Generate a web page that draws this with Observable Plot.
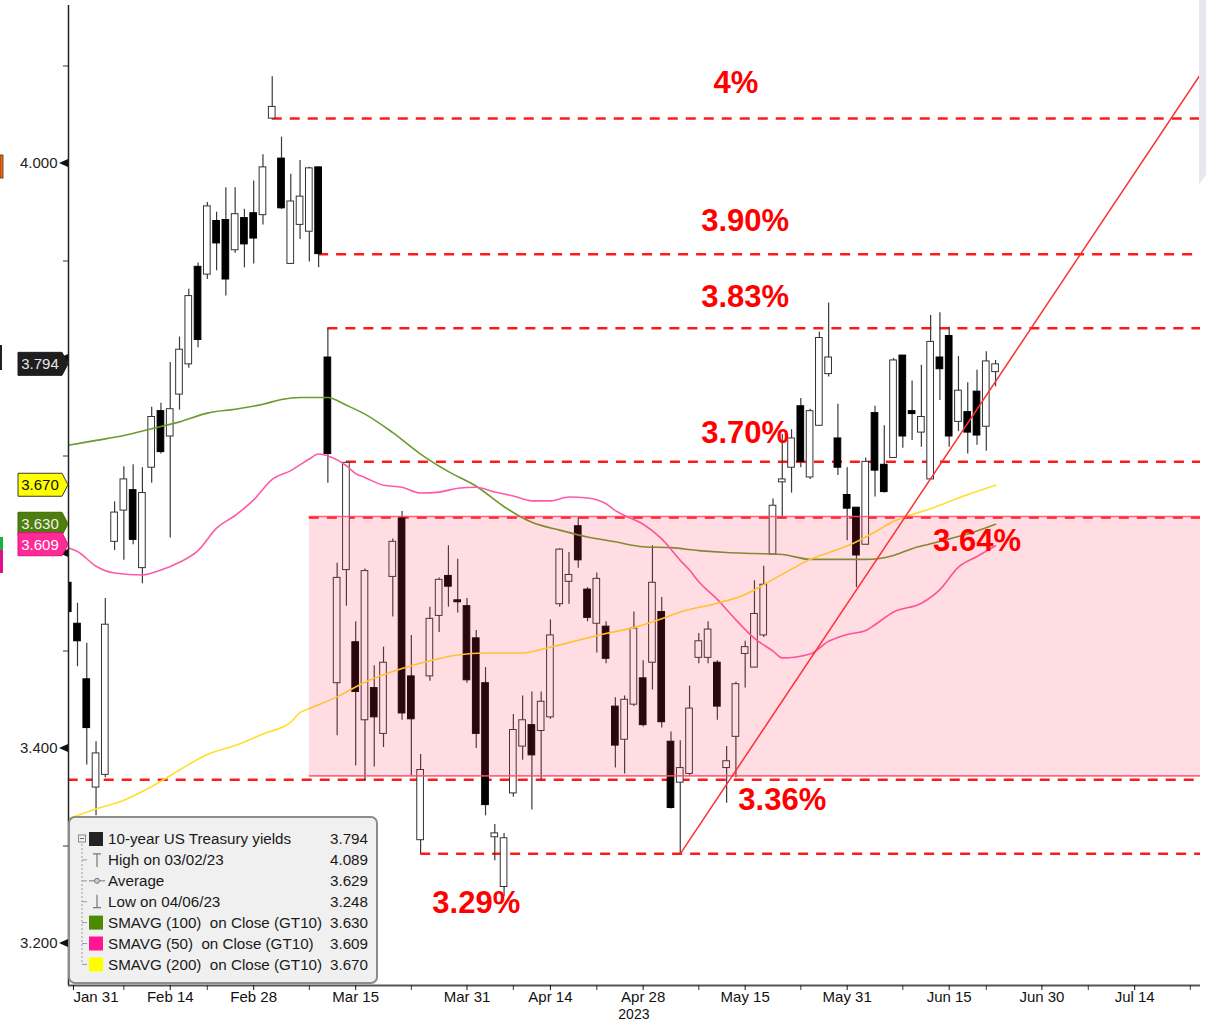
<!DOCTYPE html>
<html>
<head>
<meta charset="utf-8">
<script src="https://cdn.jsdelivr.net/npm/d3@7"></script>
<script src="https://cdn.jsdelivr.net/npm/@observablehq/plot@0.6"></script>
<style>
  html, body { margin: 0; padding: 0; background: #fff; }
  #chart { width: 1206px; height: 1026px; }
  svg { display: block; }
</style>
</head>
<body>
<div id="chart"></div>
<script>
// ---------- DATA (2023, trading days, MM-DD) ----------
const tradingDates = ("01-30 01-31 " +
 "02-01 02-02 02-03 02-06 02-07 02-08 02-09 02-10 02-13 02-14 02-15 02-16 02-17 02-21 02-22 02-23 02-24 02-27 02-28 " +
 "03-01 03-02 03-03 03-06 03-07 03-08 03-09 03-10 03-13 03-14 03-15 03-16 03-17 03-20 03-21 03-22 03-23 03-24 03-27 03-28 03-29 03-30 03-31 " +
 "04-03 04-04 04-05 04-06 04-10 04-11 04-12 04-13 04-14 04-17 04-18 04-19 04-20 04-21 04-24 04-25 04-26 04-27 04-28 " +
 "05-01 05-02 05-03 05-04 05-05 05-08 05-09 05-10 05-11 05-12 05-15 05-16 05-17 05-18 05-19 05-22 05-23 05-24 05-25 05-26 05-30 05-31 " +
 "06-01 06-02 06-05 06-06 06-07 06-08 06-09 06-12 06-13 06-14 06-15 06-16 06-20 06-21 06-22 06-23").split(" ");
const futureDates = ("06-26 06-27 06-28 06-29 06-30 07-03 07-04 07-05 07-06 07-07 07-10 07-11 07-12 07-13 07-14 " +
 "07-17 07-18 07-19 07-20 07-21 07-24 07-25").split(" ");

const open = [3.570,3.528,3.471,3.360,3.373, 3.612,3.644,3.665,3.585,3.688, 3.746,3.720,3.763,3.794,3.894,
 3.886,3.941,3.942,3.911,3.944, 3.949,3.947,4.046,4.005,3.897, 3.937,3.930,3.996,3.801,3.467,
 3.583,3.509,3.429,3.462,3.415, 3.576,3.636,3.474,3.306,3.474, 3.536,3.577,3.552,3.546,3.513,
 3.467,3.309,3.258,3.354,3.402, 3.424,3.418,3.432,3.548,3.571, 3.628,3.563,3.528,3.525,3.443,
 3.409,3.445,3.472,3.488,3.540, 3.407,3.365,3.374,3.493,3.493, 3.488,3.380,3.412,3.497,3.483,
 3.516,3.599,3.673,3.688,3.751, 3.678,3.731,3.784,3.718,3.660, 3.647,3.609,3.744,3.691,3.698,
 3.803,3.746,3.724,3.676,3.801, 3.823,3.735,3.745,3.766,3.730, 3.786];
const high = [3.575,3.549,3.508,3.407,3.554, 3.653,3.689,3.691,3.688,3.750, 3.754,3.796,3.822,3.871,3.898,
 3.960,3.950,3.975,3.975,3.953, 3.982,4.009,4.089,4.027,3.989, 4.003,3.996,3.996,3.831,3.590,
 3.694,3.530,3.584,3.485,3.504, 3.615,3.643,3.516,3.394,3.545, 3.575,3.608,3.594,3.554,3.521,
 3.483,3.322,3.313,3.435,3.454, 3.458,3.458,3.532,3.605,3.601, 3.637,3.565,3.580,3.530,3.452,
 3.454,3.540,3.490,3.608,3.555, 3.417,3.408,3.464,3.518,3.530, 3.490,3.402,3.468,3.510,3.572,
 3.587,3.656,3.722,3.727,3.759, 3.748,3.827,3.857,3.753,3.688, 3.647,3.698,3.751,3.731,3.800,
 3.803,3.777,3.793,3.844,3.847, 3.832,3.802,3.775,3.788,3.807, 3.798];
const low = [3.535,3.484,3.383,3.331,3.370, 3.603,3.593,3.609,3.569,3.672, 3.702,3.616,3.747,3.790,3.811,
 3.881,3.890,3.864,3.908,3.893, 3.897,3.937,4.046,3.953,3.897, 3.922,3.899,3.893,3.672,3.413,
 3.546,3.382,3.367,3.381,3.401, 3.535,3.429,3.372,3.292,3.469, 3.519,3.545,3.539,3.467,3.400,
 3.331,3.285,3.248,3.350,3.388, 3.337,3.367,3.430,3.545,3.548, 3.585,3.530,3.498,3.487,3.380,
 3.374,3.443,3.422,3.460,3.421, 3.338,3.292,3.372,3.487,3.487, 3.429,3.344,3.370,3.462,3.483,
 3.514,3.599,3.636,3.662,3.688, 3.676,3.731,3.781,3.680,3.613, 3.565,3.609,3.658,3.662,3.698,
 3.708,3.716,3.709,3.676,3.757, 3.709,3.725,3.702,3.711,3.705, 3.771];
const close = [3.540,3.510,3.421,3.395,3.527, 3.642,3.676,3.614,3.662,3.740, 3.704,3.748,3.809,3.864,3.819,
 3.956,3.918,3.881,3.948,3.917, 3.923,3.996,4.058,3.954,3.961, 3.966,3.995,3.907,3.702,3.575,
 3.693,3.458,3.582,3.432,3.488, 3.612,3.436,3.430,3.378,3.533, 3.573,3.566,3.550,3.470,3.415,
 3.342,3.313,3.308,3.419,3.429, 3.393,3.448,3.516,3.604,3.578, 3.593,3.534,3.574,3.492,3.403,
 3.450,3.523,3.424,3.570,3.427, 3.339,3.380,3.441,3.510,3.522, 3.443,3.387,3.466,3.504,3.538,
 3.568,3.649,3.676,3.718,3.694, 3.746,3.821,3.801,3.688,3.646, 3.598,3.694,3.685,3.663,3.798,
 3.720,3.743,3.740,3.817,3.789, 3.720,3.767,3.724,3.721,3.797, 3.794];

// Moving averages (read at sampled dates)
const sma100Dates = ["01-30","02-02","02-07","02-10","02-15","02-21","02-24","03-01","03-03","03-07","03-10","03-14","03-16","03-21","03-24","03-29","04-03","04-06","04-12","04-17","04-20","04-25","04-28","05-03","05-08","05-11","05-16","05-19","05-24","05-30","06-02","06-07","06-09","06-13","06-15","06-20","06-23"];
const sma100 = [3.711,3.716,3.721,3.728,3.735,3.744,3.748,3.753,3.758,3.760,3.760,3.752,3.743,3.724,3.702,3.684,3.669,3.648,3.632,3.624,3.617,3.612,3.607,3.606,3.603,3.601,3.600,3.599,3.594,3.594,3.594,3.598,3.605,3.610,3.615,3.620,3.630];
const sma50Dates = ["01-30","01-31","02-02","02-06","02-09","02-13","02-15","02-17","02-22","02-24","02-28","03-02","03-06","03-08","03-09","03-10","03-14","03-15","03-16","03-20","03-22","03-24","03-28","03-30","04-03","04-05","04-10","04-12","04-14","04-18","04-20","04-24","04-25","04-26","04-28","05-02","05-04","05-05","05-08","05-10","05-12","05-16","05-18","05-19","05-24","05-26","05-31","06-02","06-05","06-07","06-12","06-14","06-16","06-21","06-23"];
const sma50 = [3.606,3.602,3.587,3.580,3.578,3.583,3.591,3.603,3.626,3.639,3.655,3.676,3.685,3.697,3.702,3.700,3.690,3.682,3.678,3.670,3.668,3.662,3.663,3.667,3.668,3.663,3.659,3.654,3.654,3.658,3.657,3.651,3.644,3.639,3.630,3.615,3.593,3.583,3.571,3.553,3.532,3.513,3.500,3.493,3.497,3.510,3.517,3.521,3.527,3.540,3.549,3.563,3.586,3.597,3.608];
const sma200Dates = ["01-30","02-02","02-07","02-10","02-15","02-21","02-24","03-01","03-06","03-07","03-08","03-13","03-16","03-22","03-27","03-30","04-04","04-11","04-14","04-19","04-24","04-27","05-02","05-04","05-10","05-15","05-17","05-22","05-24","05-30","06-01","06-05","06-07","06-09","06-13","06-16","06-23"];
const sma200 = [3.328,3.338,3.347,3.361,3.378,3.394,3.403,3.415,3.427,3.437,3.441,3.453,3.468,3.482,3.490,3.496,3.498,3.498,3.504,3.511,3.518,3.524,3.533,3.540,3.549,3.558,3.568,3.584,3.594,3.604,3.612,3.622,3.633,3.640,3.646,3.657,3.670];

// Annotated levels
const levelNames  = ["4%", "3.90%", "3.83%", "3.70%", "3.64%", "3.36%", "3.29%"];
const levelValues = [4.046, 3.907, 3.831, 3.694, 3.637, 3.368, 3.292];
const levelStarts = ["03-02", "03-09", "03-10", "03-14", "03-08", "01-30", "03-24"];
const labelDates  = ["05-12", "05-15", "05-15", "05-15", "06-21", "05-19", "04-03"];
const labelValues = [4.082, 3.941, 3.863, 3.724, 3.613, 3.347, 3.242];

// Shaded zone and trend line
const zoneStart = "03-08", zoneHigh = 3.638, zoneLow = 3.372;
const trendDates = ["05-04", "07-25"], trendValues = [3.292, 4.090];

// Axis labels
const xTickDates  = ["01-31","02-14","02-28","03-15","03-31","04-14","04-28","05-15","05-31","06-15","06-30","07-14"];
const xTickLabels = ["Jan 31","Feb 14","Feb 28","Mar 15","Mar 31","Apr 14","Apr 28","May 15","May 31","Jun 15","Jun 30","Jul 14"];
const xMinorDates = ["02-07","02-21","03-08","03-23","04-10","04-21","05-08","05-23","06-08","06-22","07-07","07-24"];
const yearLabel = "2023", yearLabelDate = "04-27";
const yMajor = [3.2, 3.4, 3.6, 3.8, 4.0];
const yLabelled = [3.2, 3.4, 4.0];          // 3.6 and 3.8 are hidden behind the value tags
const yMinor = [3.3, 3.5, 3.7, 3.9, 4.1];

// Legend / tags
const legendNames  = ["10-year US Treasury yields", "High on 03/02/23", "Average", "Low on 04/06/23",
  "SMAVG (100)  on Close (GT10)", "SMAVG (50)  on Close (GT10)", "SMAVG (200)  on Close (GT10)"];
const legendValues = ["3.794", "4.089", "3.629", "3.248", "3.630", "3.609", "3.670"];
const tagNames  = ["last", "sma200", "sma100", "sma50"];
const tagValues = [3.794, 3.670, 3.630, 3.609];

// ---------- BUILD ----------
const allDates = tradingDates.concat(futureDates);
const pos = new Map(allDates.map((d, i) => [d, i]));
const X = d => pos.get(d);

const candles = tradingDates.map((d, i) => ({k: i, open: open[i], high: high[i], low: low[i], close: close[i]}));
const up = candles.filter(d => d.close >= d.open);
const down = candles.filter(d => d.close < d.open);
const xDomain = [0.03, allDates.length - 1 + 0.1];
const yDomain = [3.157, 4.162];

const series = (dates, vals) => dates.map((d, i) => ({k: X(d), v: vals[i]}));
const levels = levelNames.map((n, i) => ({name: n, v: levelValues[i], x1: X(levelStarts[i]), x2: xDomain[1]}));
const labels = levelNames.map((n, i) => ({name: n, k: X(labelDates[i]), v: labelValues[i]}));
const zone = [{x1: X(zoneStart), x2: xDomain[1], y1: zoneLow, y2: zoneHigh}];
const zoneEdges = [zoneHigh, zoneLow].map(v => ({v, x1: X(zoneStart), x2: xDomain[1]}));
const trend = trendDates.map((d, i) => ({k: X(d), v: trendValues[i]}));
const bw = 0.36;
const labelOf = new Map(xTickDates.map((d, i) => [X(d), xTickLabels[i]]));
const FONT = "'Liberation Sans', Arial, Helvetica, sans-serif";

const plot = Plot.plot({
  width: 1206, height: 1026,
  marginLeft: 68, marginRight: 6, marginTop: 5, marginBottom: 41,
  x: {type: "linear", domain: xDomain},
  y: {type: "linear", domain: yDomain},
  style: {fontFamily: FONT, fontSize: "15px", background: "#fff", color: "#1a1a1a", overflow: "visible"},
  marks: [
    Plot.ruleY(levels, {y: "v", x1: "x1", x2: "x2", stroke: "#ff1a1a", strokeWidth: 2.5, strokeDasharray: "10,8", clip: true}),
    Plot.ruleX(candles, {x: "k", y1: "low", y2: "high", stroke: "#3a3a3a", strokeWidth: 1.2, clip: true}),
    Plot.rect(up, {x1: d => d.k - bw, x2: d => d.k + bw, y1: "open", y2: "close", fill: "#fff", stroke: "#333", strokeWidth: 1, clip: true}),
    Plot.rect(down, {x1: d => d.k - bw, x2: d => d.k + bw, y1: "open", y2: "close", fill: "#000", stroke: "#000", strokeWidth: 1, clip: true}),
    Plot.line(series(sma100Dates, sma100), {x: "k", y: "v", stroke: "#6c9a2c", strokeWidth: 1.6, curve: "monotone-x", clip: true}),
    Plot.line(series(sma50Dates, sma50), {x: "k", y: "v", stroke: "#ff5aa8", strokeWidth: 1.6, curve: "monotone-x", clip: true}),
    Plot.line(series(sma200Dates, sma200), {x: "k", y: "v", stroke: "#ffdf2e", strokeWidth: 1.6, curve: "monotone-x", clip: true}),
    Plot.rect(zone, {x1: "x1", x2: "x2", y1: "y1", y2: "y2", fill: "#ff2b50", fillOpacity: 0.16, clip: true}),
    Plot.ruleY(zoneEdges, {y: "v", x1: "x1", x2: "x2", stroke: "#ff4d6d", strokeWidth: 1.6, strokeOpacity: 0.85, clip: true}),
    Plot.line(trend, {x: "k", y: "v", stroke: "#ff3030", strokeWidth: 1.5, clip: true}),
    Plot.text(labels, {x: "k", y: "v", text: "name", fill: "#ff0000", fontSize: 31, fontWeight: "bold", fontFamily: FONT}),
    Plot.ruleX([xDomain[0]], {stroke: "#222", strokeWidth: 1.5}),
    Plot.ruleY([yDomain[0]], {stroke: "#555", strokeWidth: 2}),
    Plot.axisY({ticks: yLabelled, tickFormat: d3.format(".3f"), tickSize: 0, tickPadding: 11, color: "#222", fontSize: 15}),
    Plot.axisY({ticks: yMinor, tickFormat: () => "", tickSize: 5, stroke: "#333"}),
    Plot.axisX({ticks: xTickDates.slice(1).map(X), tickFormat: k => labelOf.get(k), tickSize: 5, tickPadding: 1, color: "#111", fontSize: 15}),
    Plot.axisX({ticks: [X(xTickDates[0])], tickFormat: k => labelOf.get(k), tickSize: 5, tickPadding: 1, textAnchor: "start", dx: -4, color: "#111", fontSize: 15}),
    Plot.axisX({ticks: xMinorDates.map(X), tickFormat: () => "", tickSize: 5, stroke: "#333"}),
    Plot.text([yearLabel], {x: X(yearLabelDate), frameAnchor: "bottom", dy: 33, text: d => d, fill: "#111", fontSize: 14})
  ]
});
document.getElementById("chart").append(plot);

// ---------- Overlays drawn with the plot's own scales ----------
const svg = d3.select(plot);
const yPx = v => plot.scale("y").apply(v);
const x0 = 68;

yMajor.forEach(v => {
  const cy = yPx(v);
  svg.append("path").attr("d", `M${x0},${cy - 4}L${x0},${cy + 4}L${x0 - 9},${cy}Z`).attr("fill", "#111");
});

const edge = svg.append("g");
edge.append("rect").attr("x", 0).attr("y", 155).attr("width", 3).attr("height", 23).attr("fill", "#ff6a00").attr("stroke", "#333").attr("stroke-width", 0.8);
edge.append("rect").attr("x", 0).attr("y", 345).attr("width", 2).attr("height", 25).attr("fill", "#222");
edge.append("rect").attr("x", 0).attr("y", 537).attr("width", 3).attr("height", 13).attr("fill", "#18b040");
edge.append("rect").attr("x", 0).attr("y", 550).attr("width", 3).attr("height", 23).attr("fill", "#e0108a");
svg.append("path").attr("d", "M1199,0H1206V175L1199,184Z").attr("fill", "#e4e7f1");

const tagStyle = {
  last:   {fill: "#1e1e1e", text: "#e6e6e6", stroke: "#1e1e1e"},
  sma200: {fill: "#ffff00", text: "#111",    stroke: "#3a3a3a"},
  sma100: {fill: "#4e7d10", text: "#eef3e6", stroke: "#3c6a00"},
  sma50:  {fill: "#ff2a95", text: "#fff",    stroke: "#e0107c"}
};
tagNames.forEach((s, i) => {
  const cy = yPx(tagValues[i]);
  const st = tagStyle[s];
  const g = svg.append("g");
  g.append("path").attr("d", `M18,${cy - 11.5}H62L68,${cy}L62,${cy + 11.5}H18Z`)
    .attr("fill", st.fill).attr("stroke", st.stroke).attr("stroke-width", 1);
  g.append("text").attr("x", 40).attr("y", cy).attr("dy", "0.36em").attr("text-anchor", "middle")
    .attr("fill", st.text).attr("font-size", 15).attr("font-family", FONT).text(tagValues[i].toFixed(3));
});

const L = svg.append("g").attr("font-family", FONT).attr("font-size", 15.2).attr("fill", "#1a1a1a").attr("text-anchor", "start");
L.append("rect").attr("x", 69).attr("y", 817).attr("width", 308).attr("height", 166).attr("rx", 6)
  .attr("fill", "#f0f0f0").attr("stroke", "#8c8c8c").attr("stroke-width", 2);
const rowY = i => 839 + i * 20.9;
L.append("line").attr("x1", 82).attr("x2", 82).attr("y1", rowY(0) + 5).attr("y2", rowY(6))
  .attr("stroke", "#9a9a9a").attr("stroke-dasharray", "2,2");
for (let i = 1; i < 7; i++) {
  L.append("line").attr("x1", 82).attr("x2", 87).attr("y1", rowY(i)).attr("y2", rowY(i)).attr("stroke", "#9a9a9a");
}
L.append("rect").attr("x", 78.5).attr("y", rowY(0) - 4).attr("width", 7).attr("height", 7).attr("fill", "#f0f0f0").attr("stroke", "#888");
L.append("line").attr("x1", 80).attr("x2", 84).attr("y1", rowY(0) - 0.5).attr("y2", rowY(0) - 0.5).attr("stroke", "#666");
L.append("rect").attr("x", 89).attr("y", rowY(0) - 7).attr("width", 14).attr("height", 14).attr("fill", "#222");
L.append("path").attr("d", `M93,${rowY(1) - 6}H101M97,${rowY(1) - 6}V${rowY(1) + 7}`).attr("stroke", "#777").attr("fill", "none").attr("stroke-width", 1.2);
L.append("path").attr("d", `M89,${rowY(2)}H105`).attr("stroke", "#888").attr("stroke-width", 1.2);
L.append("circle").attr("cx", 97).attr("cy", rowY(2)).attr("r", 2.5).attr("fill", "#ccc").attr("stroke", "#777");
L.append("path").attr("d", `M97,${rowY(3) - 7}V${rowY(3) + 6}M93,${rowY(3) + 6}H101`).attr("stroke", "#777").attr("fill", "none").attr("stroke-width", 1.2);
const swatchColors = ["#4e8a00", "#ff1493", "#ffff00"];
swatchColors.forEach((c, j) => {
  L.append("rect").attr("x", 89).attr("y", rowY(4 + j) - 7).attr("width", 14).attr("height", 14).attr("fill", c);
});
legendNames.forEach((n, i) => {
  L.append("text").attr("x", 108).attr("y", rowY(i)).attr("dy", "0.36em").attr("text-anchor", "start")
    .style("white-space", "pre").text(n);
  L.append("text").attr("x", 368).attr("y", rowY(i)).attr("dy", "0.36em").attr("text-anchor", "end").text(legendValues[i]);
});
</script>
</body>
</html>
